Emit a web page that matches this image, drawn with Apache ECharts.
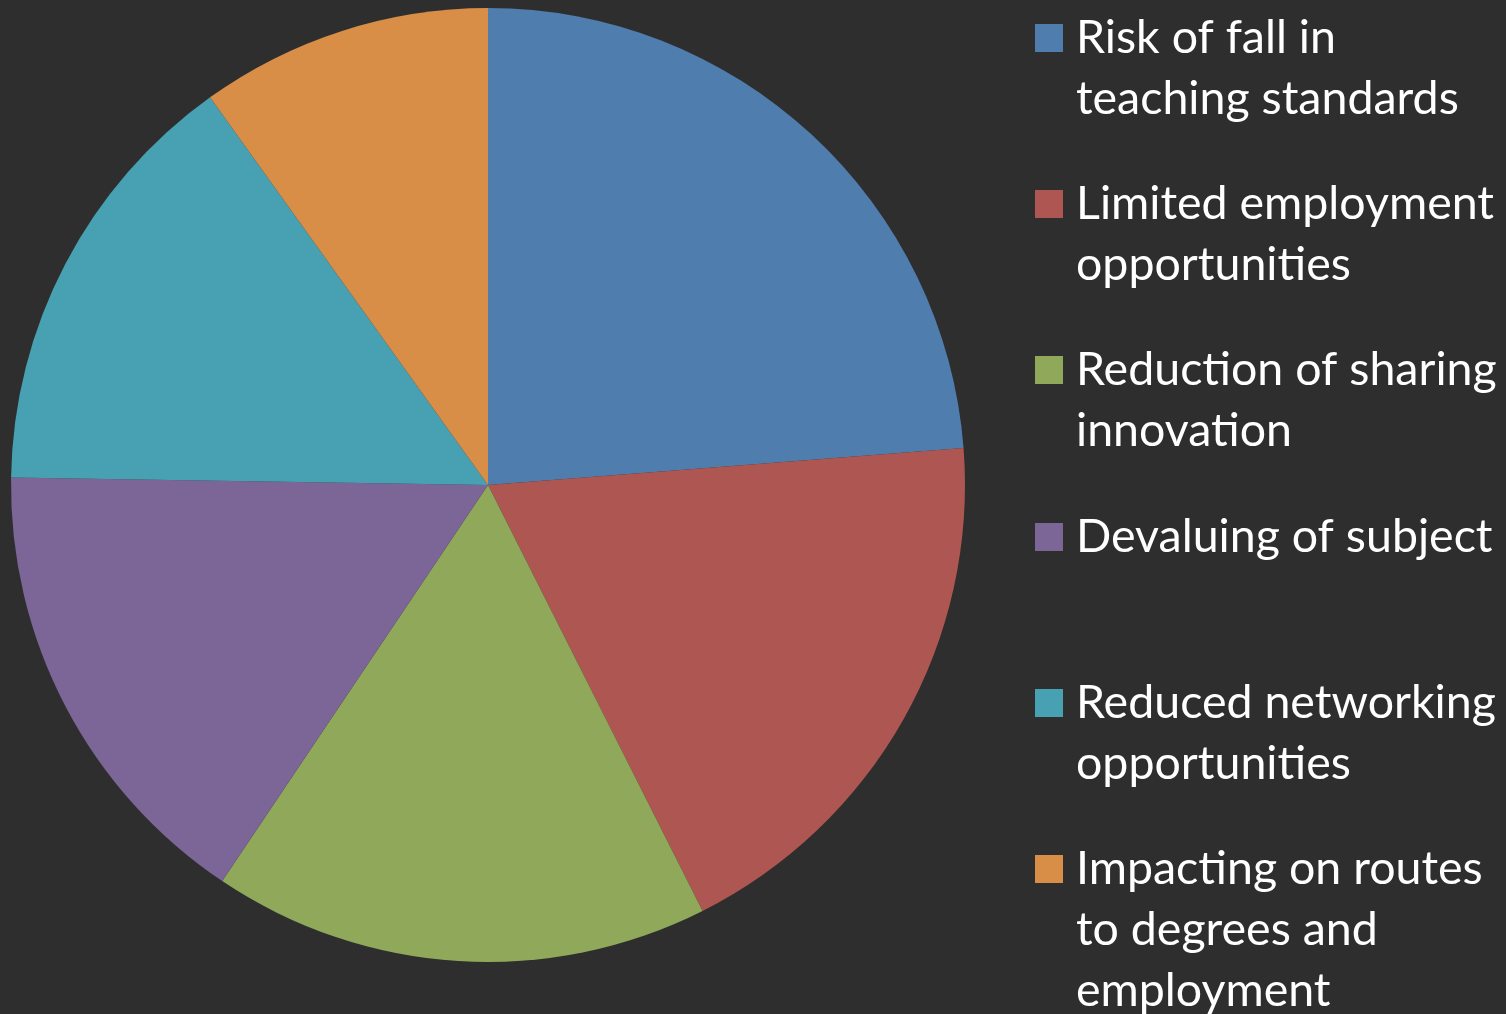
<!DOCTYPE html>
<html>
<head>
<meta charset="utf-8">
<script src="https://cdn.jsdelivr.net/npm/echarts@6/dist/echarts.min.js"></script>
<style>
html,body{margin:0;padding:0;background:#2e2e2e;}
#chart{width:1506px;height:1014px;}
</style>
</head>
<body>
<div id="chart"></div>
<script>
const categories = [
  "Risk of fall in\nteaching standards",
  "Limited employment\nopportunities",
  "Reduction of sharing\ninnovation",
  "Devaluing of subject",
  "Reduced networking\nopportunities",
  "Impacting on routes\nto degrees and\nemployment"
];
const values = [24, 19, 17, 16, 15, 10];
const colors = ["#4f7dae", "#ae5651", "#8fa85a", "#7c6597", "#48a0b3", "#d88e47"];

const iconTops = [24, 190, 356, 523, 689, 855];
const LH = 61;
const legends = categories.map((name, i) => {
  const n = name.split("\n").length;
  const boundTop = 14 - LH * (2 * n - 1) / 2;
  return {
    data: [name],
    orient: "vertical",
    left: 1035,
    top: iconTops[i] + Math.min(0, boundTop),
    padding: 0,
    itemWidth: 28,
    itemHeight: 28,
    icon: "rect",
    selectedMode: false,
    formatter: (nm) => "\n".repeat(n - 1) + nm,
    textStyle: {
      color: "#ffffff",
      fontFamily: "Lato",
      fontSize: 46.5,
      lineHeight: LH,
      padding: [0, 0, 0, 8]
    }
  };
});

const chart = echarts.init(document.getElementById("chart"), null, {renderer: "canvas"});
chart.setOption({
  backgroundColor: "#2e2e2e",
  animation: false,
  color: colors,
  legend: legends,
  series: [{
    type: "pie",
    center: [488, 485],
    radius: [0, 477],
    startAngle: 90,
    clockwise: true,
    label: {show: false},
    labelLine: {show: false},
    itemStyle: {borderWidth: 0},
    emphasis: {disabled: true},
    data: categories.map((c, i) => ({name: c, value: values[i]}))
  }]
});
</script>
</body>
</html>
